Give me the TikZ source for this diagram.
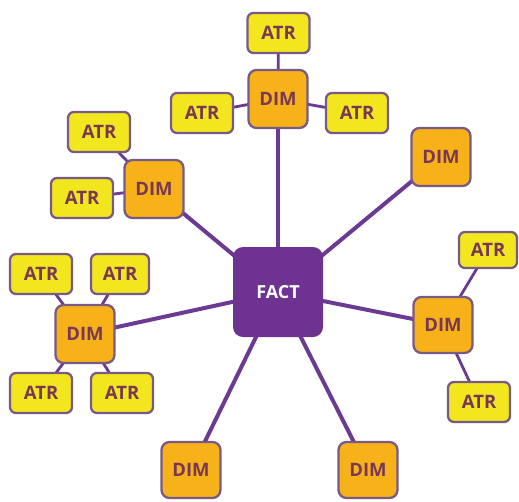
\documentclass[tikz,border=0pt]{standalone}
\usepackage{fontspec}
\setmainfont{Open Sans}
\usetikzlibrary{backgrounds}
\definecolor{linep}{RGB}{107,58,147}
\definecolor{factp}{RGB}{110,50,144}
\definecolor{atry}{RGB}{242,230,30}
\definecolor{dimo}{RGB}{247,178,25}
\definecolor{bordc}{RGB}{120,90,135}
\definecolor{txtc}{RGB}{120,55,85}
\begin{document}
\begin{tikzpicture}[x=1pt,y=-1pt,
  atr/.style={draw=bordc, line width=2.3pt, fill=atry, rounded corners=6pt,
    minimum width=62pt, minimum height=40pt, inner sep=0pt, text=txtc,
    font=\fontsize{18.5}{18.5}\selectfont\bfseries},
  dim/.style={atr, fill=dimo, minimum width=59pt, minimum height=58pt, rounded corners=8pt},
  fact/.style={fill=factp, draw=none, rounded corners=10pt, minimum width=90pt,
    minimum height=90pt, inner sep=0pt, text=white, font=\fontsize{18}{18}\selectfont\bfseries},
  mainln/.style={draw=linep, line width=4pt},
  subln/.style={draw=linep, line width=2.8pt}]
\useasboundingbox (0,0) rectangle (519,501);
\node[fact] (fact) at (278,292) {FACT};
% top DIM
\node[dim] (d1) at (278,99) {DIM};
\node[atr] (a1) at (278.5,33) {ATR};
\node[atr] (a2) at (202,113) {ATR};
\node[atr] (a3) at (357,113) {ATR};
% upper right DIM
\node[dim] (d2) at (441,157) {DIM};
% upper left DIM
\node[dim] (d3) at (154,189) {DIM};
\node[atr] (a4) at (99,132) {ATR};
\node[atr] (a5) at (82,198) {ATR};
% right DIM
\node[dim, minimum height=56pt] (d4) at (443,325) {DIM};
\node[atr, minimum width=58pt, minimum height=36pt] (a6) at (488,250) {ATR};
\node[atr] (a7) at (479,402) {ATR};
% left DIM
\node[dim] (d5) at (85,334) {DIM};
\node[atr] (a8) at (41,274) {ATR};
\node[atr, minimum width=58pt] (a9) at (120,274) {ATR};
\node[atr] (a10) at (41,393) {ATR};
\node[atr] (a11) at (122,393) {ATR};
% bottom DIMs
\node[dim, minimum height=56pt] (d6) at (191,470) {DIM};
\node[dim, minimum height=56pt] (d7) at (368,470) {DIM};
\begin{scope}[on background layer]
  \draw[mainln] (fact.center) -- (d1.center);
  \draw[mainln] (fact.center) -- (d2.center);
  \draw[mainln] (fact.center) -- (d3.center);
  \draw[mainln] (fact.center) -- (d4.center);
  \draw[mainln] (fact.center) -- (d5.center);
  \draw[mainln] (fact.center) -- (d6.center);
  \draw[mainln] (fact.center) -- (d7.center);
  \draw[subln] (d1.center) -- (a1.center);
  \draw[subln] (d1.center) -- (a2.center);
  \draw[subln] (d1.center) -- (a3.center);
  \draw[subln] (d3.center) -- (a4.center);
  \draw[subln] (d3.center) -- (a5.center);
  \draw[subln] (d4.center) -- (a6.center);
  \draw[subln] (d4.center) -- (a7.center);
  \draw[subln] (d5.center) -- (a8.center);
  \draw[subln] (d5.center) -- (a9.center);
  \draw[subln] (d5.center) -- (a10.center);
  \draw[subln] (d5.center) -- (a11.center);
\end{scope}
\end{tikzpicture}
\end{document}
